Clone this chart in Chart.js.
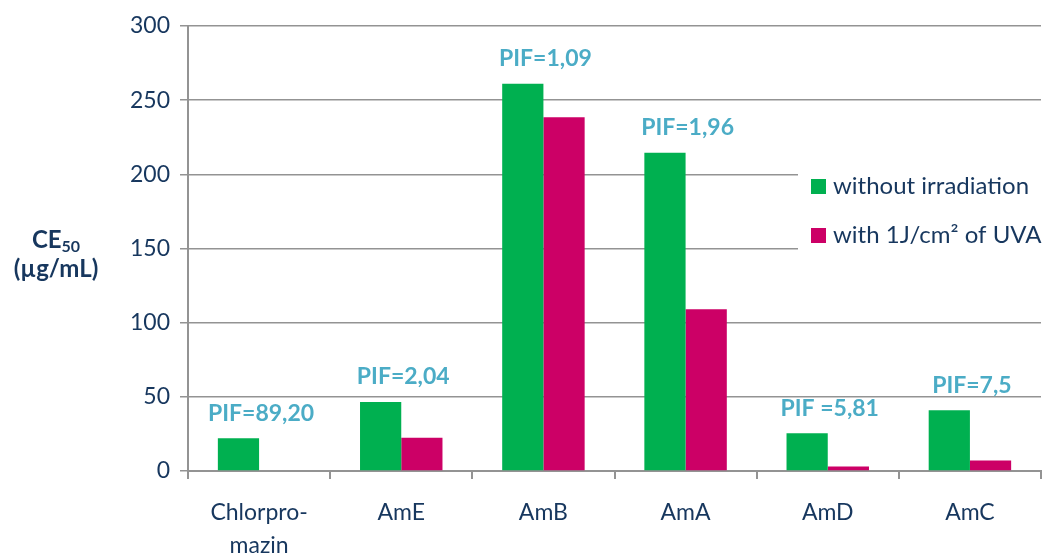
<!DOCTYPE html>
<html>
<head>
<meta charset="utf-8">
<script src="https://cdn.jsdelivr.net/npm/chart.js@4.4.1/dist/chart.umd.min.js"></script>
<style>
  html, body { margin: 0; padding: 0; background: #fff; }
  #wrap { width: 1044px; height: 554px; position: relative; }
</style>
</head>
<body>
<div id="wrap"><canvas id="chart"></canvas></div>
<script>
// data
var categories = [['Chlorpro-', 'mazin'], 'AmE', 'AmB', 'AmA', 'AmD', 'AmC'];
var withoutIrradiation = [22, 46.5, 261, 214.5, 25.5, 41];
var withUVA = [0, 22.5, 238.5, 109, 3, 7];
var pifLabels = ['PIF=89,20', 'PIF=2,04', 'PIF=1,09', 'PIF=1,96', 'PIF =5,81', 'PIF=7,5'];
var yTicks = [0, 50, 100, 150, 200, 250, 300];
var seriesNames = ['without irradiation', 'with 1J/cm\u00b2 of UVA'];

var FONT = 'Lato, "Noto Sans", sans-serif';
var NAVY = '#17375E';
var GRID = '#939393';

// PIF text above each group + y title + legend box
var extras = {
  id: 'extras',
  afterDatasetsDraw: function (chart) {
    var ctx = chart.ctx;
    var x = chart.scales.x, y = chart.scales.y;
    ctx.save();
    // PIF labels
    ctx.fillStyle = '#4BACC6';
    ctx.font = 'bold 23px ' + FONT;
    ctx.textAlign = 'center';
    ctx.textBaseline = 'middle';
    pifLabels.forEach(function (t, i) {
      var top = Math.max(withoutIrradiation[i], withUVA[i]);
      ctx.fillText(t, x.getPixelForValue(i) + 2, y.getPixelForValue(top) - 25);
    });

    // y axis title
    ctx.fillStyle = NAVY;
    ctx.font = 'bold 24px ' + FONT;
    ctx.textAlign = 'left';
    var w1 = ctx.measureText('CE').width;
    ctx.font = 'bold 16px ' + FONT;
    var w2 = ctx.measureText('50').width;
    var cx = 56, sx = cx - (w1 + w2) / 2;
    ctx.font = 'bold 24px ' + FONT;
    ctx.fillText('CE', sx, 240);
    ctx.font = 'bold 16px ' + FONT;
    ctx.fillText('50', sx + w1, 247);
    ctx.font = 'bold 24px ' + FONT;
    ctx.textAlign = 'center';
    ctx.fillText('(\u00b5g/mL)', cx, 269);

    // legend
    ctx.fillStyle = '#fff';
    ctx.fillRect(798, 150, 246, 110);
    var colors = ['#00B050', '#CC0066'];
    ctx.font = '24px ' + FONT;
    ctx.textAlign = 'left';
    seriesNames.forEach(function (n, i) {
      var ly = 186 + i * 49;
      ctx.fillStyle = colors[i];
      ctx.fillRect(811, ly - 7, 15, 15);
      ctx.fillStyle = NAVY;
      ctx.fillText(n, 833, ly);
    });
    ctx.restore();
  }
};

new Chart(document.getElementById('chart'), {
  type: 'bar',
  data: {
    labels: categories,
    datasets: [
      { label: seriesNames[0], data: withoutIrradiation, backgroundColor: '#00B050' },
      { label: seriesNames[1], data: withUVA, backgroundColor: '#CC0066' }
    ]
  },
  options: {
    responsive: true,
    maintainAspectRatio: false,
    animation: false,
    layout: { padding: { left: 0, right: 3, top: 26, bottom: 0 } },
    datasets: { bar: { categoryPercentage: 0.58, barPercentage: 1 } },
    plugins: { legend: { display: false }, tooltip: { enabled: false } },
    scales: {
      x: {
        afterFit: function (s) { s.height = 83; },
        grid: { display: true, drawOnChartArea: false, color: GRID, lineWidth: 2, tickLength: 8, offset: true },
        border: { color: GRID, width: 2 },
        ticks: { color: NAVY, font: { family: FONT, size: 23, lineHeight: 1.45 }, padding: 17, maxRotation: 0 }
      },
      y: {
        min: 0, max: 300,
        afterFit: function (s) { s.width = 188; },
        afterBuildTicks: function (s) { s.ticks = yTicks.map(function (v) { return { value: v }; }); },
        grid: { color: GRID, lineWidth: 1.5, tickLength: 8 },
        border: { color: GRID, width: 2 },
        ticks: { color: NAVY, font: { family: FONT, size: 23 }, padding: 10 }
      }
    }
  },
  plugins: [extras]
});
</script>
</body>
</html>
